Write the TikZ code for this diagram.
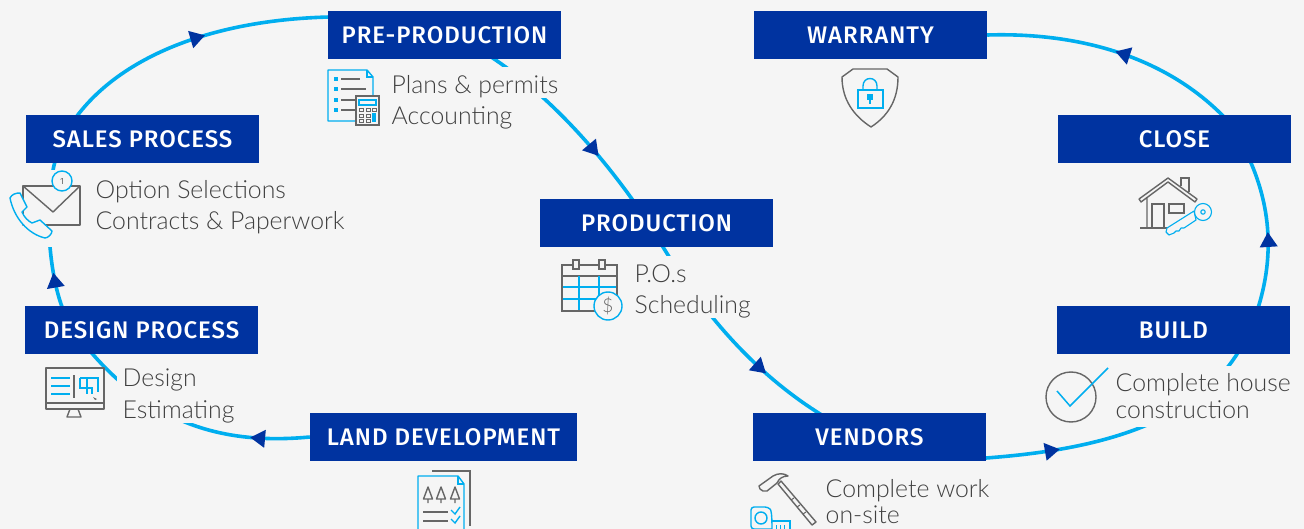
\documentclass[tikz,border=0pt]{standalone}
\usepackage{fontspec}
\setmainfont{Fira Sans}
\newfontfamily\bodyfont{Lato Light}
\newfontfamily\labelfont{Fira Sans}[BoldFont={Fira Sans Medium},BoldFeatures={LetterSpace=4}]
\usetikzlibrary{arrows.meta,decorations.markings,calc}
\pgfdeclarelayer{back}
\pgfsetlayers{back,main}
\definecolor{bgc}{HTML}{F5F5F5}
\definecolor{navy}{HTML}{0033A0}
\definecolor{sky}{HTML}{00AEEF}
\definecolor{iconc}{HTML}{666666}
\definecolor{txtc}{HTML}{404040}
\tikzset{
 stage/.style={fill=navy,text=white,minimum width=233pt,minimum height=48pt,inner sep=0pt,font=\labelfont\bfseries\fontsize{24}{24}\selectfont},
 info/.style={anchor=base west,fill=bgc,text=txtc,inner xsep=6pt,inner ysep=0pt,text height=26pt,text depth=5pt,font=\bodyfont\fontsize{24.8}{28}\selectfont},
 flow/.style={draw=sky,line width=3.6pt,decoration={markings,mark=at position #1 with {\arrow[color=navy]{Triangle[length=15pt,width=17pt]}}},postaction={decorate}},
 gl/.style={draw=iconc,line width=1.4pt},
 bl/.style={draw=sky,line width=1.4pt},
}
\begin{document}
\begin{tikzpicture}[x=1pt,y=-1pt]
\useasboundingbox (0,0) rectangle (1304,529);
\begin{pgfonlayer}{back}
\fill[bgc] (0,0) rectangle (1304,529);
\end{pgfonlayer}
% stages
\node[stage] (pre) at (444.5,35) {PRE-PRODUCTION};
\node[stage] (sales) at (142.5,139) {SALES PROCESS};
\node[stage] (prod) at (656.5,223) {PRODUCTION};
\node[stage] (design) at (141.5,330) {DESIGN PROCESS};
\node[stage,minimum width=267pt] (land) at (443.5,437) {LAND DEVELOPMENT};
\node[stage] (vendors) at (869.5,437) {VENDORS};
\node[stage] (build) at (1173.5,330) {BUILD};
\node[stage] (close) at (1174.5,139) {CLOSE};
\node[stage] (warranty) at (870.5,35) {WARRANTY};
% connectors
\begin{pgfonlayer}{back}
\draw[flow=.235] (land.west) .. controls (225,445) and (150,425) .. ([shift={(-56.5,15)}]design.center);
\draw[flow=.27] ([shift={(-73.5,-10)}]design.center) .. controls (48,285) and (40,190) .. ([shift={(-80.5,1)}]sales.center);
\draw[flow=.59] ([shift={(-80.5,1)}]sales.center) .. controls (100,65) and (200,20) .. ([shift={(-114.5,-18)}]pre.center);
\draw[flow=.65] ([shift={(35.5,15)}]pre.center) .. controls (530,80) and (590,135) .. ([shift={(-6.5,2)}]prod.center);
\draw[flow=.705] ([shift={(-6.5,2)}]prod.center) .. controls (690,295) and (745,370) .. ([shift={(-39.5,-17)}]vendors.center);
\draw[flow=.25] ([shift={(116.5,21)}]vendors.center) .. controls (1080,451) and (1200,430) .. ([shift={(71.5,10)}]build.center);
\draw[flow=.54] ([shift={(76.5,0)}]build.center) .. controls (1275,270) and (1275,210) .. ([shift={(70.5,11)}]close.center);
\draw[flow=.54] ([shift={(65.5,-4)}]close.center) .. controls (1180,60) and (1085,32) .. (warranty.east);
\end{pgfonlayer}
% texts
\node[info] (t1a) at (385.5,93.5) {Plans \& permits};
\node[info] (t1b) at (385.5,124.5) {Accounting};
\node[info] (t2a) at (89.5,198.5) {Option Selections};
\node[info] (t2b) at (89.5,229.5) {Contracts \& Paperwork};
\node[info,text width=122pt] (t3a) at (628.5,282.5) {P.O.s};
\node[info,text width=122pt] (t3b) at (628.5,313.5) {Scheduling};
\node[info] (t4a) at (116.5,386.5) {Design};
\node[info] (t4b) at (116.5,418) {Estimating};
\node[info] (t5a) at (819.5,497) {Complete work};
\node[info,fill=none] (t5b) at (819.5,523) {on-site};
\node[info,text depth=6pt] (t6a) at (1109.5,391.5) {Complete house};
\node[info,text height=21pt,text depth=8pt] (t6b) at (1109.5,418.5) {construction};
% --- sales icon
\fill[bgc] (6,170) rectangle (83,247);
\draw[gl,line join=round] (23,186) rectangle (80,225);
\draw[gl,line join=round] (23,186) -- (53,212) -- (80,186);
\draw[bl,fill=bgc,line join=round] (10,198) .. controls (12,194) and (16,193) .. (20,193) -- (27,207) -- (22,212) .. controls (24,217) and (28,221) .. (32,223) -- (40,220) -- (52,231) .. controls (52,234) and (48,238) .. (45,238) .. controls (28,234) and (14,218) .. (10,198) -- cycle;
\draw[bl,fill=bgc] (62,181) circle (10);
\node[text=iconc,font=\fontsize{9}{9}\selectfont,inner sep=0pt] (one) at (62,181) {1};
% --- pre icon
\draw[bl,fill=bgc,line join=round] (328,70) -- (367,70) -- (373,77) -- (373,121) -- (328,121) -- cycle;
\draw[bl] (367,70) -- (367,77) -- (373,77);
\foreach \yy/\xe in {79/360,89/366,100/356,110/356}{
 \fill[sky] (334,\yy-2) rectangle (338,\yy+2);
 \draw[gl] (341,\yy) -- (\xe,\yy);}
\draw[gl,fill=bgc] (356,96) rectangle (379,125);
\draw[bl] (359,100) rectangle (376,105);
\foreach \xx in {359,366}{\foreach \yy in {108,114,119}{\draw[draw=iconc,line width=.8pt] (\xx,\yy) rectangle (\xx+4,\yy+3);}}
\draw[draw=iconc,line width=.8pt] (372,108) rectangle (376,111);
\fill[sky] (372,113) rectangle (376,122);
% --- production icon
\draw[gl,fill=bgc] (562,265) rectangle (617,311);
\draw[gl] (562,276) -- (617,276);
\draw[bl] (579,276) -- (579,311) (599,276) -- (599,311) (562,287) -- (617,287) (562,299) -- (617,299);
\draw[gl] (562,265) rectangle (617,311);
\draw[gl,fill=bgc] (573,260) rectangle (579,269);
\draw[gl,fill=bgc] (599,260) rectangle (605,269);
\draw[bl,fill=bgc] (608,306) circle (14);
\node[text=iconc,font=\bodyfont\fontsize{19}{19}\selectfont,inner sep=0pt] (dollar) at (608,306) {\$};
% --- design icon
\draw[gl,line join=round] (46,368) rectangle (104,409);
\draw[gl,line width=2pt] (46,403) -- (104,403);
\draw[gl,line join=round] (70,409) -- (67,417) -- (81,417) -- (78,409);
\draw[bl,line width=1.2pt] (51,378) -- (70,378) (51,386) -- (70,386) (51,394) -- (70,394);
\draw[gl] (74,375) -- (74,398);
\draw[bl,line width=1.1pt] (80,378) -- (98,378) -- (98,392) (80,378) -- (80,388) -- (92,388) -- (92,394) (87,378) -- (87,394);
\fill[iconc] (93,397) -- (97,399) -- (95,400) -- cycle;
% --- land icon
\draw[gl] (432,471) -- (470,471) -- (470,526);
\draw[bl,fill=bgc,line join=round] (418,529.5) -- (418,476) -- (458,476) -- (464,484) -- (464,529.5);
\draw[bl] (458,476) -- (458,484) -- (464,484);
\foreach \xx in {428,441,455}{\draw[gl,line join=round] (\xx,487) -- (\xx-4.5,499) -- (\xx+4.5,499) -- cycle (\xx,499) -- (\xx,503);}
\draw[gl] (423,512) -- (448,512) (423,521) -- (448,521);
\draw[bl] (451,510) -- (455,514) -- (460,507) (451,519) -- (455,523) -- (460,516);
% --- vendors icon
\draw[gl,fill=bgc,line join=round] (778,484) -- (781,481) -- (816,522) -- (812,525) -- cycle;
\draw[draw=iconc,line width=1pt] (791,500) -- (794,498) (797,507) -- (800,505) (803,514) -- (806,512);
\draw[gl,fill=bgc,line join=round] (760,489) -- (759,486) -- (773,476) .. controls (778,473) and (784,473) .. (788,476) .. controls (782,476) and (779,479) .. (777,483) -- (767,491) -- (763,491) -- cycle;
\draw[bl,fill=bgc] (772,521) -- (790,521) -- (790,529.5) -- (772,529.5);
\draw[draw=sky,line width=1pt] (776,525) -- (776,529) (780,525) -- (780,529) (784,525) -- (784,529);
\draw[bl,rounded corners=3pt,fill=bgc] (772,529) -- (751,529) -- (751,507) -- (768,507) .. controls (771,510) and (772,513) .. (772,529);
\draw[bl] (761,518) circle (6);
% --- build icon
\draw[gl] (1071,397) circle (25);
\draw[draw=sky,line width=1.5pt] (1057,391) -- (1070,406) -- (1108,368);
% --- close icon
\draw[gl,line join=round] (1147,228) -- (1147,197) (1139,199) -- (1168,178) -- (1197,199) -- (1195,202) -- (1168,182) -- (1141,202) -- cycle;
\draw[gl] (1181,186) -- (1181,178) -- (1189,178) -- (1189,192);
\draw[gl] (1140,228) -- (1167,228);
\draw[gl] (1152,228) -- (1152,204) -- (1164,204) -- (1164,228);
\draw[gl] (1169,204) rectangle (1184,213);
\draw[draw=sky,line width=1.1pt,fill=bgc,line join=round] (1194,211) -- (1167,228) -- (1166,232) -- (1169,235) -- (1174,233) -- (1176,231) -- (1179,231) -- (1181,228) -- (1184,228) -- (1196,220) -- cycle;
\draw[draw=sky,line width=1.1pt,fill=bgc] (1203,212) circle (8.5);
\draw[draw=sky,line width=1.1pt] (1203,212) circle (2.2);
% --- warranty icon
\draw[gl,line join=round] (842,77) -- (853,69) -- (887,69) -- (898,77) .. controls (898,100) and (888,116) .. (871,127) .. controls (854,116) and (842,100) .. (842,77) -- cycle;
\draw[bl] (858,90) rectangle (883,108);
\draw[bl] (863,90) -- (863,86) .. controls (863,76) and (877,76) .. (877,86) -- (877,90);
\fill[sky] (867,94) rectangle (873,100);
\draw[draw=sky,line width=1.2pt] (870,100) -- (870,104);
\end{tikzpicture}
\end{document}
